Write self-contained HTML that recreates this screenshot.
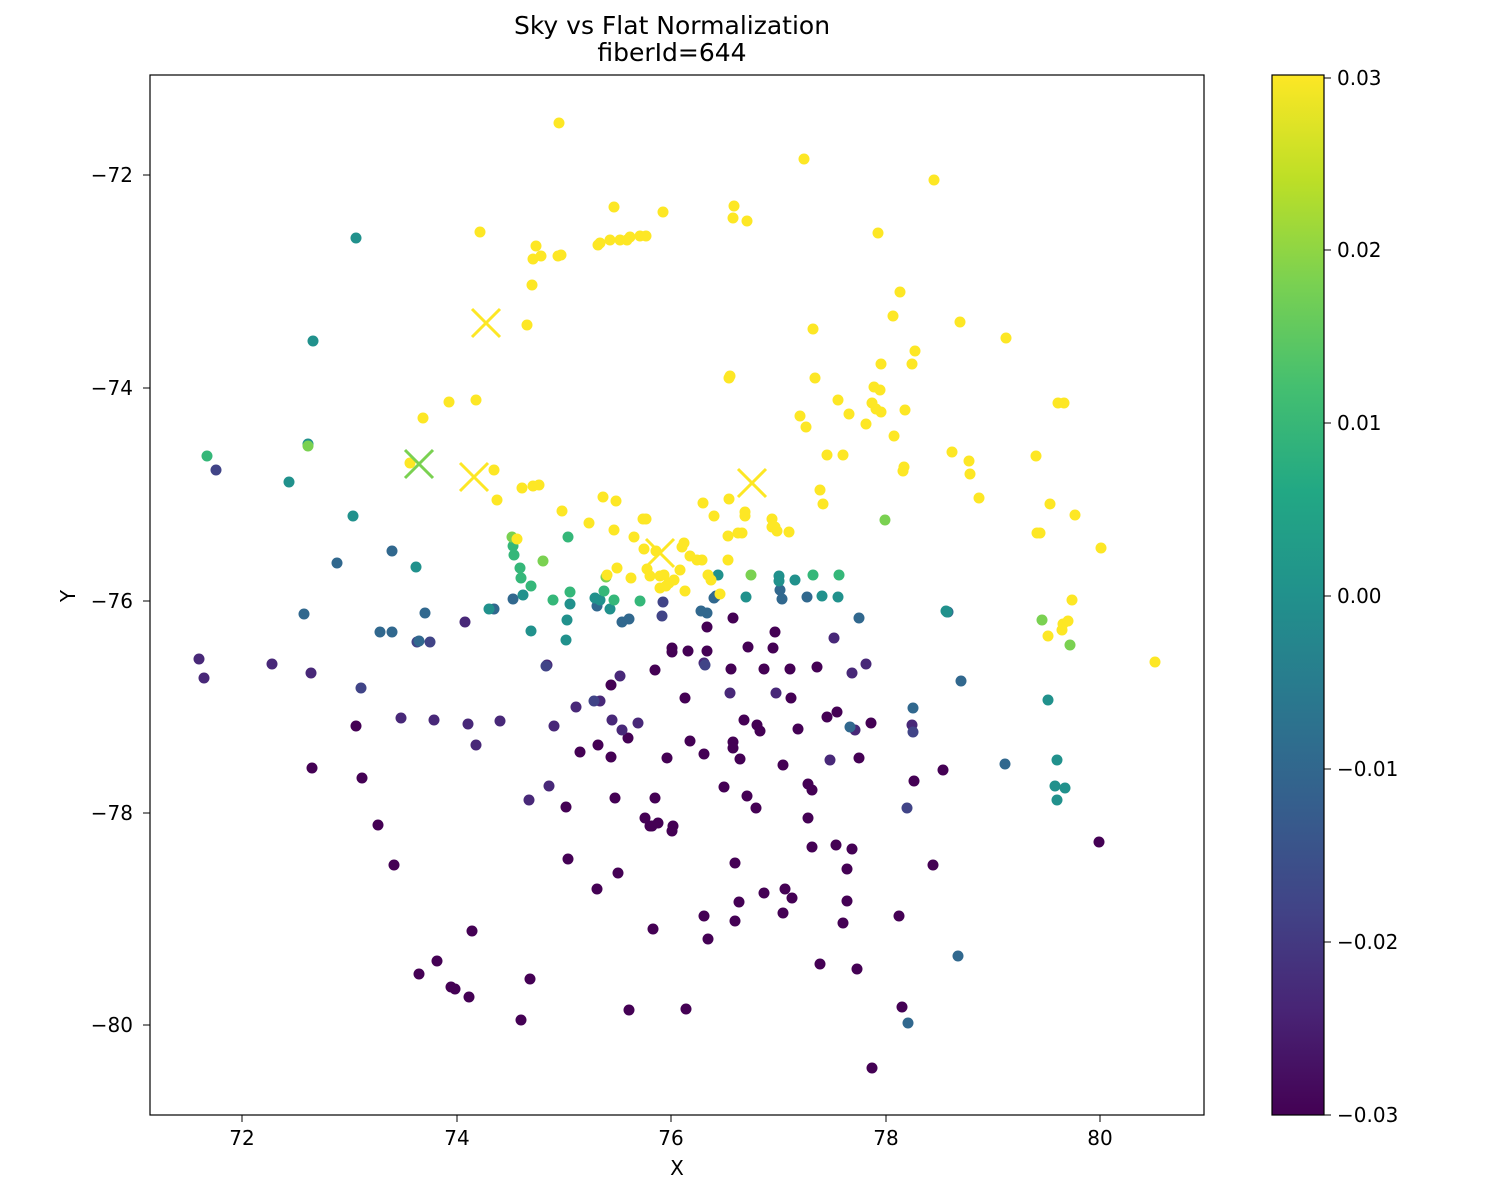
<!DOCTYPE html>
<html><head><meta charset="utf-8"><style>body{margin:0;background:#fff}svg{display:block;font-family:"DejaVu Sans","Liberation Sans",sans-serif}</style></head>
<body>
<svg id="s" width="1500" height="1200" xmlns="http://www.w3.org/2000/svg">
<defs>
<linearGradient id="vir" x1="0" y1="1" x2="0" y2="0">
<stop offset="0" stop-color="#440154"/><stop offset="0.1" stop-color="#482475"/><stop offset="0.2" stop-color="#414487"/><stop offset="0.3" stop-color="#355f8d"/><stop offset="0.4" stop-color="#2a788e"/><stop offset="0.5" stop-color="#21918c"/><stop offset="0.6" stop-color="#22a884"/><stop offset="0.7" stop-color="#44bf70"/><stop offset="0.8" stop-color="#7ad151"/><stop offset="0.9" stop-color="#bddf26"/><stop offset="1" stop-color="#fde725"/>
</linearGradient>
<clipPath id="c"><rect x="150" y="75" width="1054" height="1040"/></clipPath>
</defs>
<rect x="0" y="0" width="1500" height="1200" fill="#fff"/>
<text x="672" y="34" font-size="25" text-anchor="middle">Sky vs Flat Normalization</text>
<text x="672" y="61" font-size="25" text-anchor="middle">fiberId=644</text>
<g id="pts" clip-path="url(#c)"></g>
<rect x="150" y="75" width="1054" height="1040" fill="none" stroke="#000" stroke-width="1.2"/>
<g id="ax" font-size="20" stroke="#000"></g>
<text x="677" y="1175" font-size="20" text-anchor="middle">X</text>
<text x="75" y="596" font-size="20" text-anchor="middle" transform="rotate(-90 75 596)">Y</text>
<rect x="1272" y="75" width="52" height="1040" fill="url(#vir)" stroke="#000" stroke-width="1.2"/>
</svg>
<script>
const ns="http://www.w3.org/2000/svg";
function el(t,a,p){const e=document.createElementNS(ns,t);for(const k in a)e.setAttribute(k,a[k]);p.appendChild(e);return e;}
const g=document.getElementById('pts'),ax=document.getElementById('ax'),s=document.getElementById('s');
const C={Y:"#fde725",L:"#7ad151",G:"#35b779",T:"#21918c",B:"#31688e",I:"#414487",P:"#482878",D:"#440154"};
const data={
Y:[559,123,804,159,934,180,480,232,663,212,614,207,734,206,733,218,747,221,878,233,536,246,561,255,598,245,600,243,610,240,620,240,630,237,640,236,646,236,627,240,533,259,541,256,558,256,532,285,527,325,900,292,893,316,960,322,1006,338,813,329,915,351,912,364,881,364,729,378,730,376,815,378,874,387,880,390,838,400,849,414,872,403,876,409,881,412,866,424,1058,403,800,416,806,427,894,436,843,455,827,455,952,452,969,461,970,474,903,471,904,467,1036,456,1050,504,979,498,1037,533,1040,533,1075,515,1101,548,1155,662,423,418,449,402,476,400,410,463,494,470,497,500,517,539,533,486,522,488,539,485,603,497,616,501,562,511,589,523,614,530,643,519,646,519,703,503,729,499,714,516,745,512,745,516,742,533,772,519,772,527,775,527,777,531,789,532,820,490,823,504,634,537,644,549,656,551,647,569,650,576,660,576,664,575,669,583,674,580,680,570,684,543,690,556,697,560,702,560,708,575,711,580,685,591,660,588,666,586,728,536,728,560,738,533,617,568,607,575,631,578,682,547,720,594,1048,636,1072,600,1063,624,1068,621,1062,630,1064,403,905,410],
L:[512,537,543,561,606,577,751,575,1042,620,1070,645,885,520,308,446],
G:[207,456,513,546,514,555,521,578,531,586,568,537,553,600,570,592,614,600,604,591,640,601,813,575,839,575,520,568],
T:[308,444,289,482,353,516,416,567,531,631,566,640,570,604,595,598,600,600,567,620,779,576,779,581,795,580,822,596,838,597,1057,760,1055,786,1065,788,1048,700,1057,800,946,611,947,612,746,597,718,575,610,609,523,595,489,609,356,238,313,341],
B:[304,614,337,563,392,551,392,632,419,641,425,613,380,632,494,609,513,599,597,606,622,622,629,619,716,596,707,613,701,611,714,598,780,590,782,599,807,597,859,618,948,612,961,681,913,708,850,727,1005,764,958,956,908,1023],
I:[216,470,361,688,546,666,594,701,663,602,662,616,705,665,913,732,907,808,430,642,417,642],
P:[199,659,204,678,272,664,311,673,401,718,434,720,465,622,468,724,476,745,500,721,547,665,549,786,529,800,554,726,576,707,600,701,620,676,612,720,638,723,622,730,704,663,730,693,776,693,834,638,852,673,866,664,855,730,830,760,912,725],
D:[312,768,362,778,356,726,378,825,394,865,472,931,419,974,437,961,451,987,455,989,469,997,521,1020,530,979,566,807,568,859,597,889,580,752,598,745,611,685,611,757,615,798,628,738,655,670,655,798,650,826,645,818,652,826,667,758,673,826,672,831,685,698,688,651,672,648,672,652,707,651,707,627,690,741,704,754,724,787,733,618,748,647,744,720,747,796,731,669,733,742,733,748,740,759,757,725,756,808,760,731,764,669,773,648,775,632,783,765,790,669,791,698,792,898,798,729,808,784,808,818,812,790,812,847,817,667,827,717,836,845,837,712,847,869,847,901,852,849,857,969,859,758,871,723,899,916,902,1007,933,865,943,770,1099,842,914,781,872,1068,653,929,735,921,735,863,739,902,764,893,785,889,783,913,843,923,820,964,686,1009,704,916,708,939,658,823,629,1010,618,873]};
for(const k of ["D","P","I","B","T","G","L","Y"]){const a=data[k];for(let i=0;i<a.length;i+=2)el('circle',{cx:a[i],cy:a[i+1],r:5.5,fill:C[k]},g);}
function X(x,y,c){el('path',{d:`M${x-14} ${y-14}L${x+14} ${y+14}M${x-14} ${y+14}L${x+14} ${y-14}`,stroke:c,'stroke-width':3,fill:'none'},g);}
X(486,323,C.Y);X(474,477,C.Y);X(752,483,C.Y);X(660,553,C.Y);X(419,464,C.L);
const xt=[[242,"72"],[457,"74"],[671,"76"],[886,"78"],[1100,"80"]];
for(const [x,t] of xt){el('line',{x1:x,y1:1115,x2:x,y2:1122},ax);const e=el('text',{x:x,y:1145,'text-anchor':'middle',stroke:'none'},ax);e.textContent=t;}
const yt=[[175,"−72"],[388,"−74"],[601,"−76"],[813,"−78"],[1025,"−80"]];
for(const [y,t] of yt){el('line',{x1:143,y1:y,x2:150,y2:y},ax);const e=el('text',{x:133,y:y+7,'text-anchor':'end',stroke:'none'},ax);e.textContent=t;}
const ct=[[78,"0.03"],[250,"0.02"],[423,"0.01"],[596,"0.00"],[769,"−0.01"],[942,"−0.02"],[1115,"−0.03"]];
for(const [y,t] of ct){el('line',{x1:1324,y1:y,x2:1331,y2:y},ax);const e=el('text',{x:1337,y:y+7,stroke:'none'},ax);e.textContent=t;}
</script>
</body></html>
